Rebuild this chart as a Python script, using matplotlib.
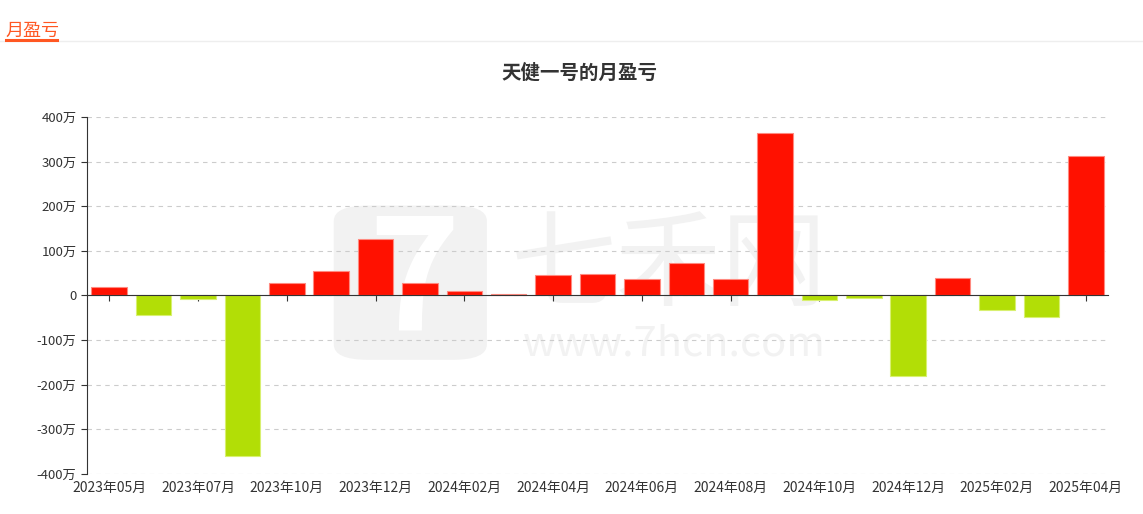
import numpy as np
import pandas as pd
import matplotlib
matplotlib.use('Agg')
import matplotlib.pyplot as plt
from matplotlib.lines import Line2D
from matplotlib.patches import FancyBboxPatch

plt.rcParams['font.family'] = ['Noto Sans CJK SC', 'DejaVu Sans']
plt.rcParams['axes.unicode_minus'] = False

# data (单位: 万)
months = ['2023年05月', '2023年06月', '2023年07月', '2023年09月', '2023年10月',
          '2023年11月', '2023年12月', '2024年01月', '2024年02月', '2024年03月',
          '2024年04月', '2024年05月', '2024年06月', '2024年07月', '2024年08月',
          '2024年09月', '2024年10月', '2024年11月', '2024年12月', '2025年01月',
          '2025年02月', '2025年03月', '2025年04月']
pnl = [20, -43, -7, -359, 27, 55, 126, 28, 11, 3,
       45, 48, 36, 72, 38, 365, -10.5, -6, -180, 40,
       -31.5, -49, 312]
yticks = [-400, -300, -200, -100, 0, 100, 200, 300, 400]

df = pd.DataFrame({'month': months, 'pnl': pnl})
red = '#ff1100'
green = '#b2de06'
colors = [red if v >= 0 else green for v in df['pnl']]
edges = ['#ff8a80' if v >= 0 else '#d8f070' for v in df['pnl']]

fig = plt.figure(figsize=(11.43, 5.14), dpi=100)
ax = fig.add_axes([0.0761, 0.0778, 0.8933, 0.6946])

# watermark (behind the bars)
wm = '#f2f2f2'
ax.add_patch(FancyBboxPatch((0.292, 0.300), 0.134, 0.30, boxstyle='round,pad=0,rounding_size=0.03',
                            transform=fig.transFigure, facecolor=wm, edgecolor='none', zorder=1))
ax.text(0.362, 0.445, '7', transform=fig.transFigure, fontsize=112, color='white', fontweight='bold',
        ha='center', va='center', zorder=1)
ax.text(0.585, 0.48, '七禾网', transform=fig.transFigure, fontsize=76, color=wm, ha='center',
        va='center', zorder=1)
ax.text(0.59, 0.33, 'www.7hcn.com', transform=fig.transFigure, fontsize=30, color=wm, ha='center',
        va='center', zorder=1)

x = np.arange(len(df))
ax.bar(x, df['pnl'], width=0.8, color=colors, edgecolor=edges, linewidth=0.8, zorder=3)

ax.set_xlim(-0.5, len(df) - 0.5)
ax.set_ylim(-400, 400)
ax.set_yticks(yticks)
ax.set_yticklabels([f'{v}万' if v != 0 else '0' for v in yticks])
ax.grid(axis='y', color='#cccccc', linestyle=(0, (4, 4)), linewidth=0.8, zorder=0)

for s in ['top', 'right']:
    ax.spines[s].set_visible(False)
ax.spines['left'].set_color('#333333')
ax.spines['bottom'].set_position(('data', 0))
ax.spines['bottom'].set_color('#333333')
ax.spines['bottom'].set_zorder(4)

ax.tick_params(axis='y', colors='#333333', labelsize=9.5, length=4, width=0.8)
ax.set_xticks(x[::2])
ax.tick_params(axis='x', labelbottom=False, length=4, width=0.8, color='#333333')

sec = ax.secondary_xaxis(0)
sec.set_xticks(x[::2])
sec.set_xticklabels(df['month'][::2])
sec.tick_params(length=0, labelsize=10, colors='#333333', pad=5)
sec.spines['bottom'].set_visible(False)

fig.suptitle('天健一号的月盈亏', x=0.507, y=0.877, fontsize=14, fontweight='bold', color='#333333')

# header
fig.text(0.005, 0.94, '月盈亏', fontsize=13, color='#ff5722', ha='left', va='center')
fig.add_artist(Line2D([0, 1], [0.92, 0.92], color='#eeeeee', linewidth=1, transform=fig.transFigure))
fig.add_artist(Line2D([0.005, 0.05], [0.922, 0.922], color='#ff5722', linewidth=2.2, transform=fig.transFigure))

fig.savefig('out.png', dpi=100)
